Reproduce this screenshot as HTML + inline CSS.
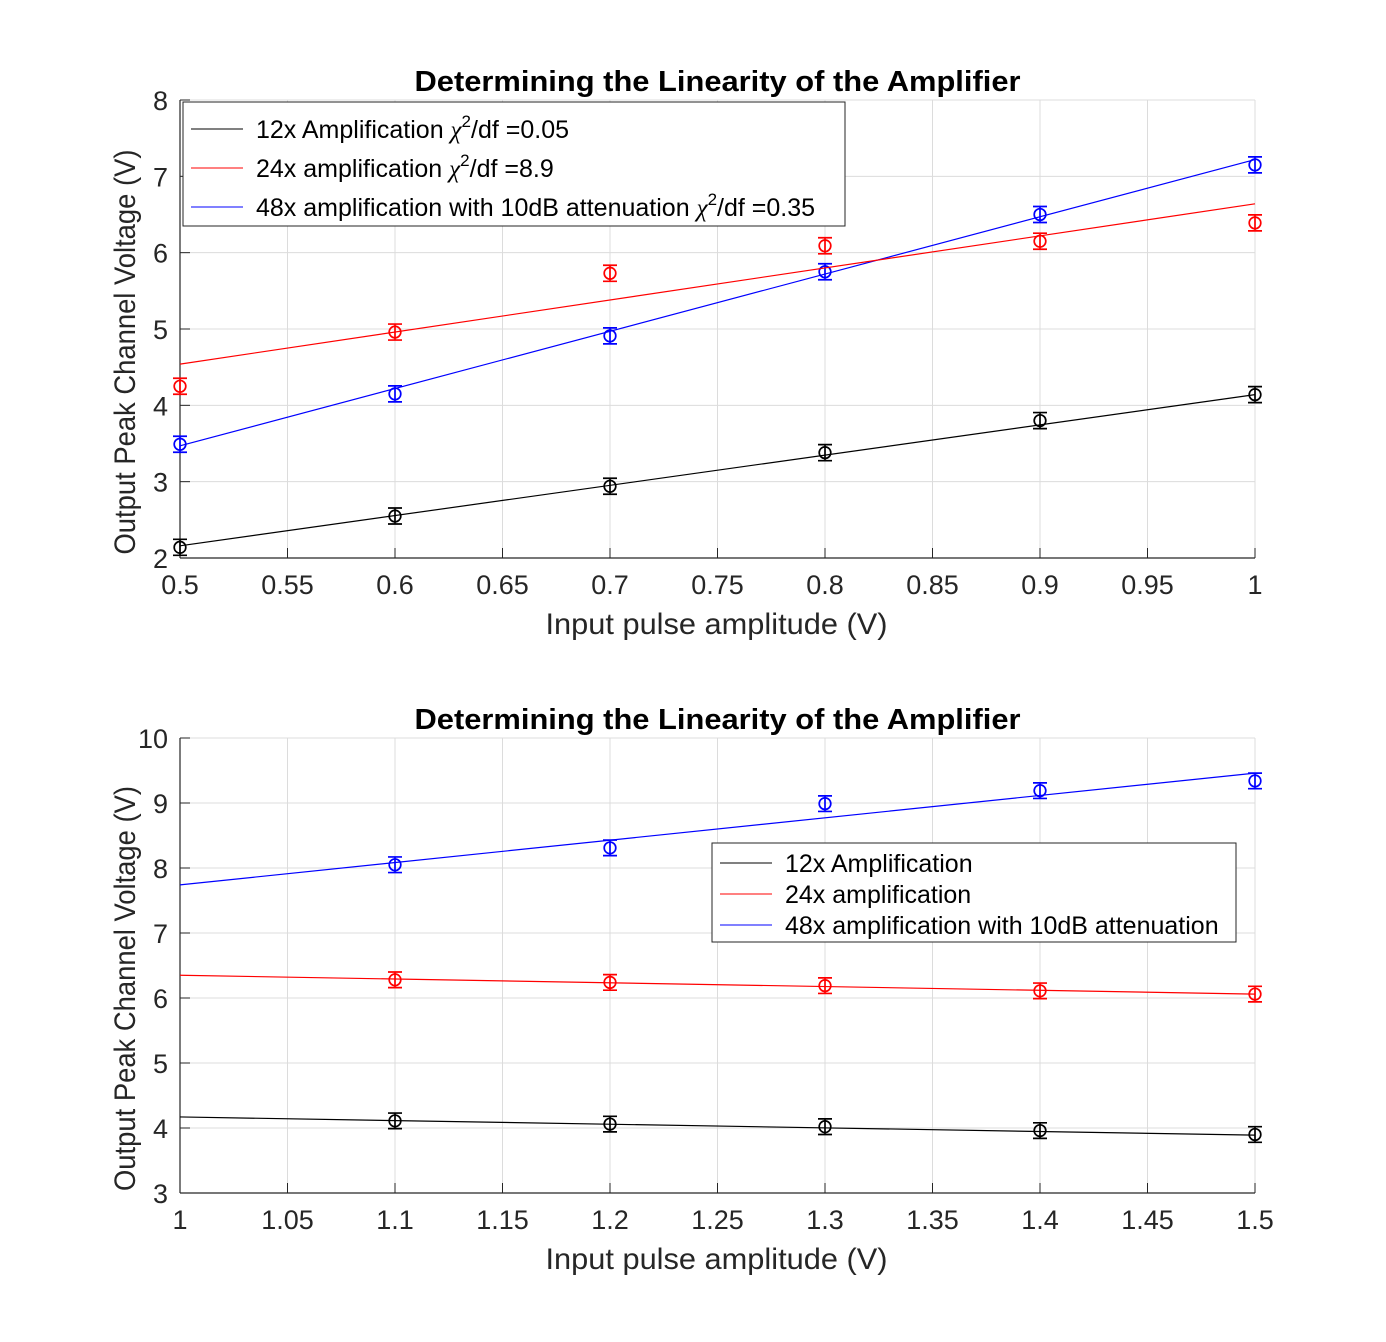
<!DOCTYPE html>
<html><head><meta charset="utf-8"><style>
body{margin:0;background:#fff;}
svg{display:block;font-family:"Liberation Sans",sans-serif;}
</style></head><body>
<svg id="chart" width="1386" height="1342"></svg>
<script>
// Top panel data
const xTop = [0.5,0.6,0.7,0.8,0.9,1.0];
const blackTop = [2.14,2.55,2.94,3.38,3.80,4.14];
const redTop = [4.25,4.96,5.73,6.09,6.15,6.39];
const blueTop = [3.49,4.15,4.91,5.75,6.50,7.15];
const blackTopFit = [2.16,4.14];
const redTopFit = [4.54,6.64];
const blueTopFit = [3.47,7.22];
const errTop = [0.105,0.105,0.105,0.105,0.105,0.105];
const xTicksTop = [0.5,0.55,0.6,0.65,0.7,0.75,0.8,0.85,0.9,0.95,1];
const yTicksTop = [2,3,4,5,6,7,8];
// Bottom panel data
const xBot = [1.1,1.2,1.3,1.4,1.5];
const blackBot = [4.11,4.06,4.02,3.96,3.90];
const redBot = [6.28,6.24,6.19,6.11,6.06];
const blueBot = [8.05,8.31,8.99,9.19,9.34];
const blackBotFit = [4.17,3.89];
const redBotFit = [6.35,6.06];
const blueBotFit = [7.74,9.46];
const errBot = [0.12,0.12,0.12,0.12,0.12];
const xTicksBot = [1,1.05,1.1,1.15,1.2,1.25,1.3,1.35,1.4,1.45,1.5];
const yTicksBot = [3,4,5,6,7,8,9,10];

const NS="http://www.w3.org/2000/svg";
const svg=document.getElementById('chart');
function mk(tag,attrs,parent){const e=document.createElementNS(NS,tag);for(const k in attrs)e.setAttribute(k,attrs[k]);(parent||svg).appendChild(e);return e;}

function panel(p){
  const g=mk('g',{});
  
  
  const sx=v=>p.x0+(v-p.xmin)/(p.xmax-p.xmin)*(p.x1-p.x0);
  const sy=v=>p.y0-(v-p.ymin)/(p.ymax-p.ymin)*(p.y0-p.y1);
  p.xt.forEach(t=>{const l=mk('line',{x1:sx(t),x2:sx(t),y1:p.y1,y2:p.y0,stroke:'#dcdcdc','stroke-width':1},g);
    });
  p.yt.forEach(t=>{const l=mk('line',{x1:p.x0,x2:p.x1,y1:sy(t),y2:sy(t),stroke:'#dcdcdc','stroke-width':1},g);
    });
  const ax=mk('line',{x1:p.x0,x2:p.x1,y1:p.y0,y2:p.y0,stroke:'#262626','stroke-width':1.2},g);
  
  const ay=mk('line',{x1:p.x0,x2:p.x0,y1:p.y1,y2:p.y0,stroke:'#262626','stroke-width':1.2},g);
  
  p.xt.forEach(t=>{mk('line',{x1:sx(t),x2:sx(t),y1:p.y0,y2:p.y0-10,stroke:'#262626'},g);
    const tx=mk('text',{x:sx(t),y:p.y0+36,'text-anchor':'middle','font-size':27,fill:'#262626'},g);tx.textContent=String(t);
    });
  p.yt.forEach(t=>{mk('line',{x1:p.x0,x2:p.x0+10,y1:sy(t),y2:sy(t),stroke:'#262626'},g);
    const tx=mk('text',{x:p.x0-12,y:sy(t)+10,'text-anchor':'end','font-size':27,fill:'#262626'},g);tx.textContent=String(t);
    });
  p.series.forEach(s=>{
    const fl=mk('line',{x1:sx(p.xmin),x2:sx(p.xmax),y1:sy(s.fit[0]),y2:sy(s.fit[1]),stroke:s.c,'stroke-width':1.2},g);
    
    s.y.forEach((v,i)=>{
      const cx=sx(p.xs[i]),cy=sy(v),e=p.err[i];
      const eb=mk('path',{d:`M${cx},${sy(v+e)}V${sy(v-e)}M${cx-7},${sy(v+e)}H${cx+7}M${cx-7},${sy(v-e)}H${cx+7}`,stroke:s.c,'stroke-width':1.7,fill:'none'},g);
      
      const c=mk('circle',{cx:cx,cy:cy,r:5.8,stroke:s.c,'stroke-width':1.7,fill:'none'},g);
      
    });
  });
  const ti=mk('text',{x:(p.x0+p.x1)/2,y:p.y1-9,'text-anchor':'middle','font-size':29,'font-weight':'bold',fill:'#000',textLength:606,lengthAdjust:'spacingAndGlyphs'},g);
  ti.textContent='Determining the Linearity of the Amplifier';
  
  const xl=mk('text',{x:(p.x0+p.x1)/2-1,y:p.y0+76,'text-anchor':'middle','font-size':30,fill:'#262626',textLength:342,lengthAdjust:'spacingAndGlyphs'},g);
  xl.textContent='Input pulse amplitude (V)';
  
  const yl=mk('text',{x:0,y:0,'text-anchor':'middle','font-size':30,fill:'#262626',textLength:405,lengthAdjust:'spacingAndGlyphs',transform:`translate(${p.x0-45},${(p.y0+p.y1)/2+23}) rotate(-90)`},g);
  yl.textContent='Output Peak Channel Voltage (V)';
  
  const L=p.leg;
  const lg=mk('g',{},g);
  
  mk('rect',{x:L.x,y:L.y,width:L.w,height:L.h,fill:'#fff',stroke:'#262626','stroke-width':1},lg);
  L.items.forEach((it,i)=>{
    const yy=L.y+L.first+i*L.step;
    mk('line',{x1:L.x+8,x2:L.x+60,y1:yy,y2:yy,stroke:it.c,'stroke-width':1},lg);
    const t=mk('text',{x:L.x+73,y:yy+9,'font-size':25,fill:'#000'},lg);
    t.innerHTML=it.html;
    
  });
}

const chi=(v)=>` <tspan font-family="Liberation Serif, serif" font-style="italic">χ</tspan><tspan dy="-11" font-size="17">2</tspan><tspan dy="11">/df =${v}</tspan>`;
panel({name:'top-panel',x0:180,x1:1255,y0:558,y1:100,xmin:0.5,xmax:1,ymin:2,ymax:8,xt:xTicksTop,yt:yTicksTop,xs:xTop,err:errTop,
  series:[{n:'blue-48x',c:'#0000ff',y:blueTop,fit:blueTopFit},{n:'red-24x',c:'#ff0000',y:redTop,fit:redTopFit},{n:'black-12x',c:'#000',y:blackTop,fit:blackTopFit}],
  leg:{x:183,y:102,w:662,h:124,first:27,step:39,items:[
    {c:'#000',html:'12x Amplification'+chi('0.05')},
    {c:'#ff0000',html:'24x amplification'+chi('8.9')},
    {c:'#0000ff',html:'48x amplification with 10dB attenuation'+chi('0.35')}]}});
panel({name:'bottom-panel',x0:180,x1:1255,y0:1193,y1:738,xmin:1,xmax:1.5,ymin:3,ymax:10,xt:xTicksBot,yt:yTicksBot,xs:xBot,err:errBot,
  series:[{n:'blue-48x',c:'#0000ff',y:blueBot,fit:blueBotFit},{n:'red-24x',c:'#ff0000',y:redBot,fit:redBotFit},{n:'black-12x',c:'#000',y:blackBot,fit:blackBotFit}],
  leg:{x:712,y:843,w:524,h:99,first:20,step:31,items:[
    {c:'#000',html:'12x Amplification'},
    {c:'#ff0000',html:'24x amplification'},
    {c:'#0000ff',html:'48x amplification with 10dB attenuation'}]}});
</script>
</body></html>
